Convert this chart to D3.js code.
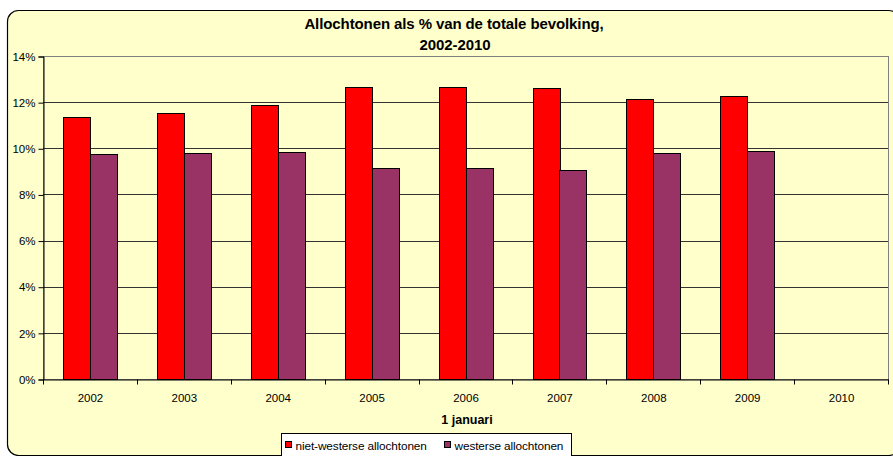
<!DOCTYPE html>
<html>
<head>
<meta charset="utf-8">
<script src="https://cdn.jsdelivr.net/npm/d3@7"></script>
<style>
  body { margin: 0; background: #ffffff; }
  svg text { font-family: "Liberation Sans", Arial, sans-serif; }
</style>
</head>
<body>
<div id="chart"></div>
<script>
var years = ['2002', '2003', '2004', '2005', '2006', '2007', '2008', '2009', '2010'];
var seriesNames = ['niet-westerse allochtonen', 'westerse allochtonen'];
var nietWesters = [11.35, 11.52, 11.89, 12.64, 12.64, 12.60, 12.14, 12.27, null];
var westers = [9.77, 9.81, 9.85, 9.13, 9.13, 9.06, 9.81, 9.90, null];
var yTicks = [0, 2, 4, 6, 8, 10, 12, 14];
var colors = ['#ff0000', '#993366'];

var width = 893, height = 456;
var margin = { left: 43, right: 5, top: 56, bottom: 77 };

var svg = d3.select('#chart').append('svg')
    .attr('width', width)
    .attr('height', height);

// chart area
svg.append('rect')
    .attr('x', 7.5).attr('y', 10.5)
    .attr('width', 892).attr('height', 445)
    .attr('rx', 11)
    .style('fill', '#ffffcc')
    .style('stroke', '#000')
    .style('stroke-width', 1.2);

var x = d3.scaleBand()
    .domain(years)
    .range([margin.left, width - margin.right]);

var y = d3.scaleLinear()
    .domain([0, 14])
    .range([height - margin.bottom, margin.top]);

// Excel gap width 150%: band = 3.5 bar widths
var barW = x.bandwidth() / 3.5;

// plot area
svg.append('rect')
    .attr('x', margin.left + 0.5).attr('y', margin.top + 0.5)
    .attr('width', width - margin.right - margin.left)
    .attr('height', height - margin.bottom - margin.top)
    .style('fill', '#ffffcc')
    .style('stroke', '#808080');

// gridlines
svg.append('g').selectAll('line')
    .data(yTicks.slice(1, -1))
    .enter().append('line')
    .attr('x1', margin.left).attr('x2', width - margin.right)
    .attr('y1', function (d) { return Math.round(y(d)) + 0.5; })
    .attr('y2', function (d) { return Math.round(y(d)) + 0.5; })
    .style('stroke', '#333');

var series = [nietWesters, westers];
series.forEach(function (vals, si) {
    svg.append('g').selectAll('rect')
        .data(years.map(function (yr, i) { return { year: yr, v: vals[i] }; })
            .filter(function (d) { return d.v !== null; }))
        .enter().append('rect')
        .attr('x', function (d) {
            return Math.round(x(d.year) + x.bandwidth() / 2 - barW + si * barW) + 0.5;
        })
        .attr('y', function (d) { return Math.round(y(d.v)) + 0.5; })
        .attr('width', Math.round(barW))
        .attr('height', function (d) { return Math.round(y(0)) - Math.round(y(d.v)); })
        .style('fill', colors[si])
        .style('stroke', '#000')
        .style('stroke-width', 1);
});

// y axis
var yAxis = svg.append('g')
    .attr('transform', 'translate(' + (margin.left + 0.5) + ',0.5)')
    .call(d3.axisLeft(y).tickValues(yTicks).tickSize(5).tickPadding(3)
        .tickFormat(function (d) { return d + '%'; }));
yAxis.select('.domain').style('stroke', '#000');
yAxis.selectAll('.tick line').style('stroke', '#000');
yAxis.selectAll('text')
    .style('font-size', '11.5px')
    .style('fill', '#000')
    .style('font-family', '"Liberation Sans", Arial, sans-serif');

// x axis
var xAxis = svg.append('g')
    .attr('transform', 'translate(0.5,' + (Math.round(y(0)) + 0.5) + ')')
    .call(d3.axisBottom(x).tickSize(0).tickPadding(14));
xAxis.select('.domain').style('stroke', '#000');
xAxis.selectAll('text')
    .style('font-size', '11.5px')
    .style('fill', '#000')
    .style('font-family', '"Liberation Sans", Arial, sans-serif');
xAxis.selectAll('.sep')
    .data(years.map(function (yr) { return x(yr); }).concat([x(years[years.length - 1]) + x.bandwidth()]))
    .enter().append('line')
    .attr('class', 'sep')
    .attr('x1', function (d) { return Math.round(d); })
    .attr('x2', function (d) { return Math.round(d); })
    .attr('y1', 0).attr('y2', 5)
    .style('stroke', '#000');

// titles
svg.append('text')
    .attr('x', 454).attr('y', 29)
    .attr('text-anchor', 'middle')
    .style('font-size', '15px').style('font-weight', 'bold')
    .style('letter-spacing', '-0.1px')
    .text('Allochtonen als % van de totale bevolking,');
svg.append('text')
    .attr('x', 455).attr('y', 50)
    .attr('text-anchor', 'middle')
    .style('font-size', '15px').style('font-weight', 'bold')
    .style('letter-spacing', '-0.1px')
    .text('2002-2010');
svg.append('text')
    .attr('x', 467).attr('y', 424)
    .attr('text-anchor', 'middle')
    .style('font-size', '12.5px').style('font-weight', 'bold')
    .text('1 januari');

// legend
var legend = svg.append('g').attr('transform', 'translate(281.5,433.5)');
legend.append('rect')
    .attr('width', 290).attr('height', 30)
    .style('fill', '#ffffff')
    .style('stroke', '#000');
var lx = [4, 163];
seriesNames.forEach(function (name, i) {
    legend.append('rect')
        .attr('x', lx[i]).attr('y', 8)
        .attr('width', 6).attr('height', 6)
        .style('fill', colors[i])
        .style('stroke', '#000');
    legend.append('text')
        .attr('x', lx[i] + 10).attr('y', 16)
        .style('font-size', '11.8px')
        .style('letter-spacing', '-0.1px')
        .text(name);
});
</script>
</body>
</html>
